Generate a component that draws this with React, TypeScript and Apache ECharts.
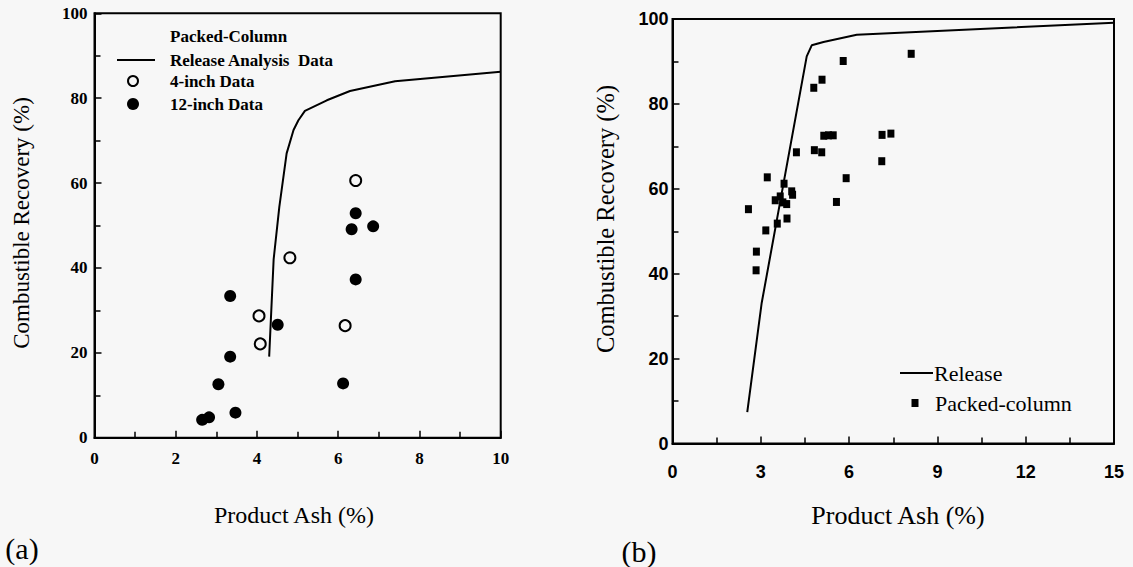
import React, { useEffect, useRef } from "react";
import * as echarts from "echarts";

// ---- Panel (a) data ----
const releaseAX = [4.3, 4.41, 4.55, 4.73, 4.9, 5.02, 5.18, 5.72, 6.29, 7.4, 10.0];
const releaseAY = [19.1, 42.0, 54.4, 67.0, 72.5, 74.8, 77.0, 79.5, 81.7, 84.0, 86.2];
const fourInchX = [6.43, 4.81, 4.05, 4.08, 6.17];
const fourInchY = [60.6, 42.4, 28.7, 22.1, 26.4];
const twelveInchX = [6.43, 6.33, 6.86, 6.43, 3.34, 4.51, 3.34, 3.05, 6.12, 3.47, 2.82, 2.65];
const twelveInchY = [52.9, 49.1, 49.8, 37.3, 33.4, 26.6, 19.1, 12.6, 12.8, 5.9, 4.8, 4.2];

// ---- Panel (b) data ----
const releaseBX = [2.54, 3.03, 4.56, 4.73, 5.13, 6.26, 15.0];
const releaseBY = [7.4, 33.1, 91.2, 93.8, 94.6, 96.3, 99.1];
const packedX = [2.58, 2.85, 2.84, 3.17, 3.22, 3.56, 3.49, 3.66, 3.79, 3.88, 3.75, 3.89, 4.05, 4.08, 4.21, 4.8, 5.08, 5.8, 4.82, 5.07, 5.14, 5.3, 5.46, 5.57, 5.9, 7.12, 7.11, 7.42, 8.11];
const packedY = [55.2, 45.2, 40.8, 50.2, 62.7, 51.8, 57.3, 58.2, 61.2, 56.4, 56.8, 53.0, 59.4, 58.6, 68.6, 83.8, 85.7, 90.1, 69.1, 68.6, 72.5, 72.6, 72.6, 56.9, 62.5, 72.7, 66.5, 73.0, 91.8];

// ---- Texts ----
const xTitle = "Product Ash (%)";
const yTitle = "Combustible Recovery (%)";
const legendA = ["Packed-Column", "Release Analysis  Data", "4-inch Data", "12-inch Data"];
const legendB = ["Release", "Packed-column"];

const zip = (xs: number[], ys: number[]) => xs.map((x, i) => [x, ys[i]]);

const SERIF = '"Liberation Serif", "Times New Roman", serif';
const SANS = '"Liberation Sans", Arial, sans-serif';
const BG = "#f7f7f7";

function axis(gridIndex: number, min: number, max: number, interval: number, fontFamily: string, fontSize: number, margin: number) {
  return {
    type: "value",
    gridIndex,
    min,
    max,
    interval,
    axisLine: { show: true, onZero: false, lineStyle: { color: "#000", width: 2 } },
    axisTick: { show: true, inside: true, length: 7, lineStyle: { color: "#000", width: 1.5 } },
    minorTick: { show: true, splitNumber: 2, length: 6, lineStyle: { color: "#000", width: 1.5 } },
    splitLine: { show: false },
    minorSplitLine: { show: false },
    axisLabel: { color: "#000", fontFamily, fontWeight: "bold", fontSize, margin },
  };
}

export default function App() {
  const ref = useRef<HTMLDivElement>(null);
  useEffect(() => {
    if (!ref.current) return;
    const chart = echarts.init(ref.current, undefined, { renderer: "svg" });
    const txt = (text: string, x: number, y: number, size: number, extra: any = {}) => ({
      type: "text",
      x,
      y,
      rotation: extra.rotation || 0,
      style: {
        text,
        fill: "#000",
        fontFamily: SERIF,
        fontSize: size,
        fontWeight: extra.weight || "normal",
        align: extra.align || "left",
        verticalAlign: "middle",
      },
    });
    chart.setOption({
      animation: false,
      backgroundColor: BG,
      grid: [
        { left: 94.5, top: 13.3, width: 406.2, height: 424.4, show: true, borderColor: "#000", borderWidth: 2, backgroundColor: "transparent" },
        { left: 672.5, top: 19, width: 441.5, height: 424.5, show: true, borderColor: "#000", borderWidth: 2, backgroundColor: "transparent" },
      ],
      xAxis: [axis(0, 0, 10, 2, SERIF, 17, 12), axis(1, 0, 15, 3, SANS, 18, 19)],
      yAxis: [axis(0, 0, 100, 20, SERIF, 17, 7), axis(1, 0, 100, 20, SANS, 18, 4)],
      series: [
        {
          name: legendA[1],
          type: "line",
          xAxisIndex: 0,
          yAxisIndex: 0,
          data: zip(releaseAX, releaseAY),
          showSymbol: false,
          symbol: "none",
          lineStyle: { color: "#000", width: 2 },
        },
        {
          name: legendA[2],
          type: "scatter",
          xAxisIndex: 0,
          yAxisIndex: 0,
          data: zip(fourInchX, fourInchY),
          symbol: "circle",
          symbolSize: 11,
          itemStyle: { color: BG, borderColor: "#000", borderWidth: 2, opacity: 1 },
        },
        {
          name: legendA[3],
          type: "scatter",
          xAxisIndex: 0,
          yAxisIndex: 0,
          data: zip(twelveInchX, twelveInchY),
          symbol: "circle",
          symbolSize: 12,
          itemStyle: { color: "#000", opacity: 1 },
        },
        {
          name: legendB[0],
          type: "line",
          xAxisIndex: 1,
          yAxisIndex: 1,
          data: zip(releaseBX, releaseBY),
          showSymbol: false,
          symbol: "none",
          lineStyle: { color: "#000", width: 2 },
        },
        {
          name: legendB[1],
          type: "scatter",
          xAxisIndex: 1,
          yAxisIndex: 1,
          data: zip(packedX, packedY),
          symbol: "rect",
          symbolSize: [7, 8],
          itemStyle: { color: "#000", opacity: 1 },
        },
      ],
      graphic: [
        // axis titles
        txt(yTitle, 21, 223, 23, { rotation: Math.PI / 2, align: "center" }),
        txt(xTitle, 294, 515, 24, { align: "center" }),
        txt(yTitle, 605, 219, 24.5, { rotation: Math.PI / 2, align: "center" }),
        txt(xTitle, 898, 515, 26, { align: "center" }),
        txt("(a)", 22, 548, 30, { align: "center" }),
        txt("(b)", 639, 551, 30, { align: "center" }),
        // legend (a)
        txt(legendA[0], 170, 36, 17, { weight: "bold" }),
        { type: "line", shape: { x1: 117, y1: 60, x2: 155, y2: 60 }, style: { stroke: "#000", lineWidth: 2 } },
        txt(legendA[1], 170, 60, 17, { weight: "bold" }),
        { type: "circle", shape: { cx: 133, cy: 81, r: 5 }, style: { fill: BG, stroke: "#000", lineWidth: 2 } },
        txt(legendA[2], 170, 81, 17, { weight: "bold" }),
        { type: "circle", shape: { cx: 133, cy: 104, r: 6 }, style: { fill: "#000" } },
        txt(legendA[3], 170, 104, 17, { weight: "bold" }),
        // legend (b)
        { type: "line", shape: { x1: 900, y1: 373, x2: 933, y2: 373 }, style: { stroke: "#000", lineWidth: 2 } },
        txt(legendB[0], 934, 373, 22),
        { type: "rect", shape: { x: 911.5, y: 399, width: 7, height: 8 }, style: { fill: "#000" } },
        txt(legendB[1], 935, 403, 22),
      ],
    });
    return () => chart.dispose();
  }, []);
  return <div ref={ref} style={{ position: "absolute", left: 0, top: 0, width: 1133, height: 567 }} />;
}
